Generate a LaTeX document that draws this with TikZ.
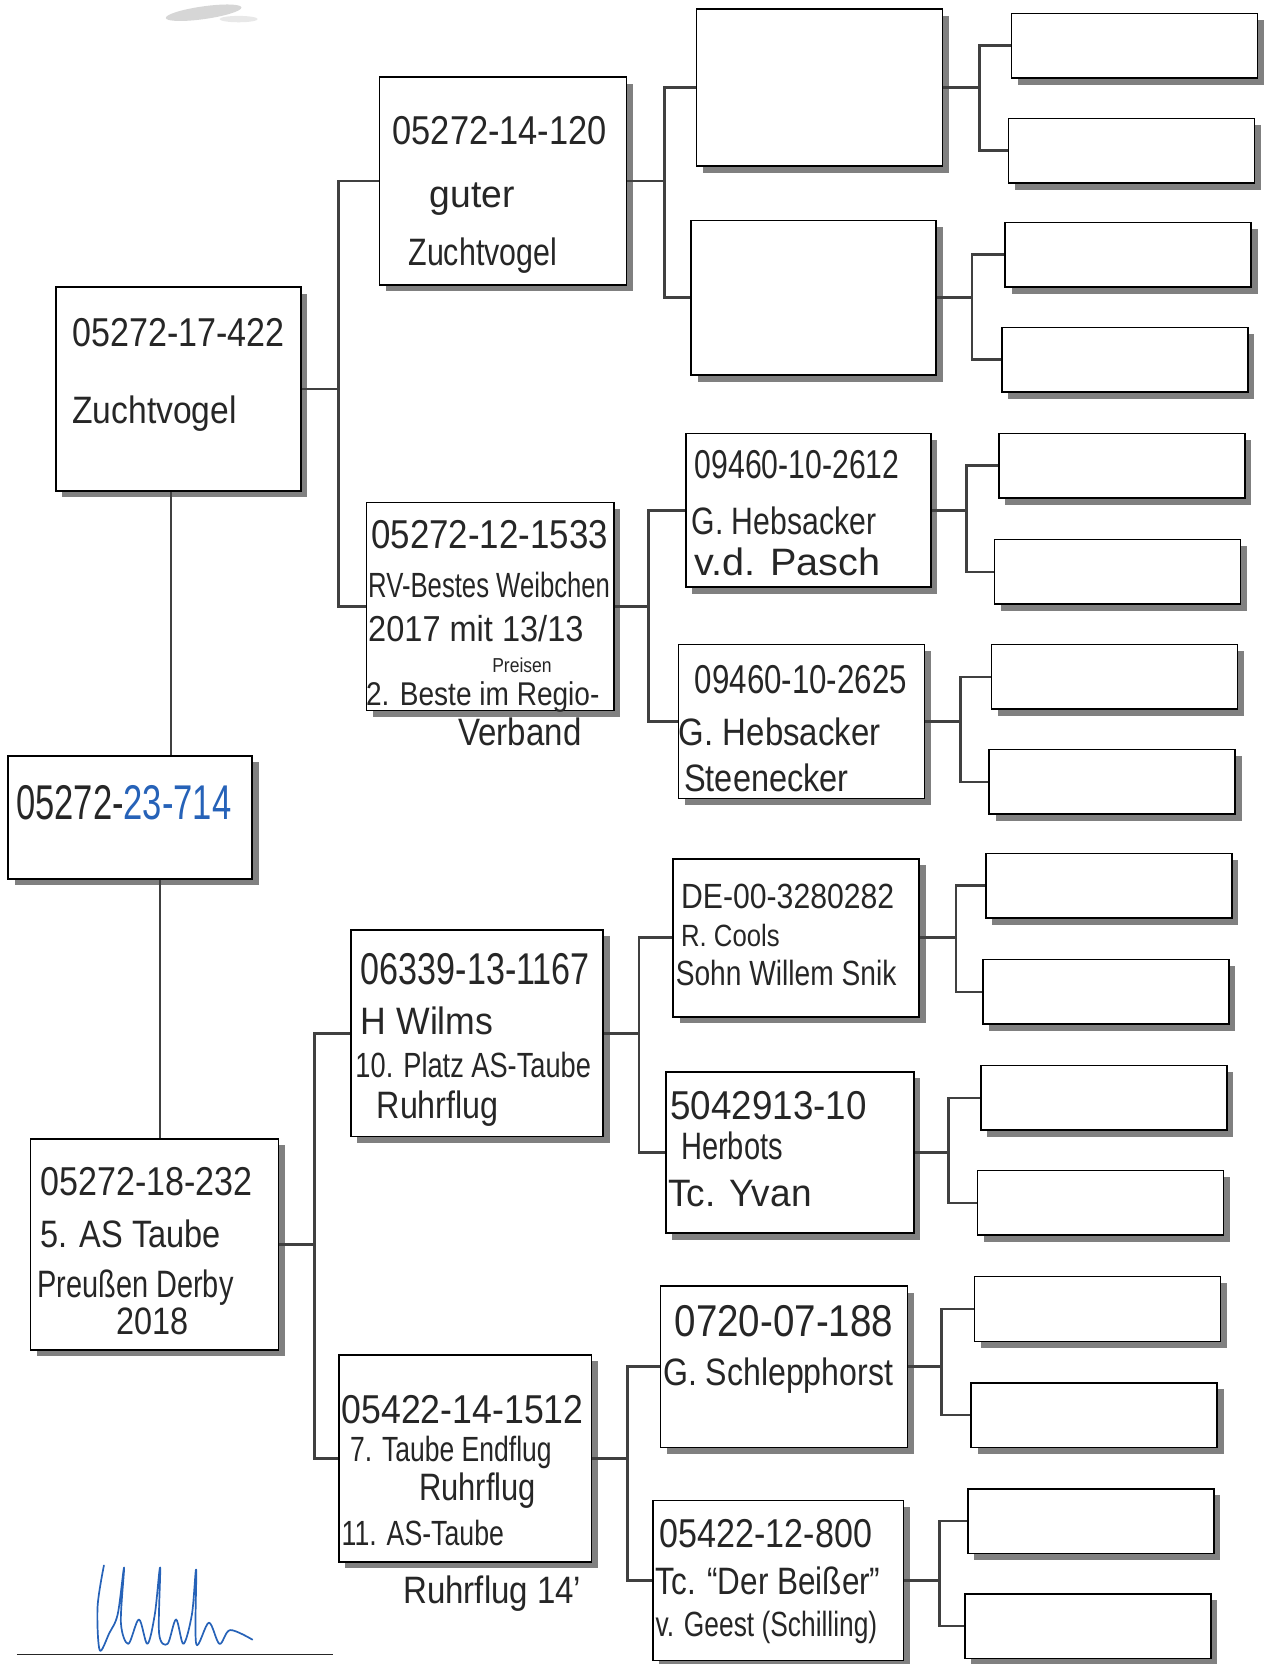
\documentclass[tikz,border=0pt]{standalone}
\usepackage{fontspec}
\setmainfont{Liberation Sans}
\usepackage{graphicx}
\usetikzlibrary{shadows}
\definecolor{penblue}{RGB}{38,98,184}
\newcommand{\hwr}[2]{\resizebox{#1pt}{\height}{#2}}
\tikzset{
  box/.style={draw=black, line width=1.5pt, fill=white, inner sep=0pt, anchor=north west,
    general shadow={fill=black!50, shadow xshift=6pt, shadow yshift=-6pt}},
  pbox/.style={box, minimum width=232pt, minimum height=61pt},
  conn/.style={draw=black!75, line width=2.6pt},
  vconn/.style={draw=black!75, line width=2.2pt},
  txt/.style={inner sep=0pt, anchor=base west, text=black!85, font=\fontsize{36}{40}\selectfont},
  idt/.style={txt, font=\fontsize{38}{42}\selectfont},
  sig/.style={draw=penblue, line width=1.6pt, line cap=round, line join=round}
}
\begin{document}
\begin{tikzpicture}[x=1pt, y=-1pt]
\fill[white] (0,0) rectangle (1191,1569);
\useasboundingbox (0,0) rectangle (1191,1569);

% scan smudge
\fill[gray!45, opacity=.7, rotate around={8:(192,12)}] (192,12) ellipse [x radius=36, y radius=6];
\fill[gray!30, opacity=.6] (225,18) ellipse [x radius=18, y radius=3];

% root
\node[box, minimum width=230pt, minimum height=116pt] (root) at (7,712) {};
% parents
\node[box, minimum width=231pt, minimum height=192pt] (sire) at (52,270) {};
\node[box, minimum width=234pt, minimum height=199pt] (dam) at (28,1073) {};
% grandparents
\node[box, minimum width=233pt, minimum height=196pt] (c2a) at (357,72) {};
\node[box, minimum width=233pt, minimum height=196pt] (c2b) at (345,473) {};
\node[box, minimum width=238pt, minimum height=195pt] (c2c) at (330,876) {};
\node[box, minimum width=238pt, minimum height=195pt] (c2d) at (319,1277) {};
% great-grandparents
\node[box, minimum width=232pt, minimum height=148pt] (c3a) at (656,8) {};
\node[box, minimum width=231pt, minimum height=146pt] (c3b) at (651,207) {};
\node[box, minimum width=231pt, minimum height=145pt] (c3c) at (646,408) {};
\node[box, minimum width=232pt, minimum height=145pt] (c3d) at (639,607) {};
\node[box, minimum width=232pt, minimum height=149pt] (c3e) at (634,809) {};
\node[box, minimum width=234pt, minimum height=152pt] (c3f) at (627,1010) {};
\node[box, minimum width=233pt, minimum height=152pt] (c3g) at (622,1212) {};
\node[box, minimum width=236pt, minimum height=151pt] (c3h) at (615,1414) {};
% great-great-grandparents
\foreach \i/\x/\y in {1/953/12, 2/950/111, 3/947/209, 4/944/308, 5/941/408, 6/937/508,
  7/934/607, 8/932/706, 9/929/804, 10/926/904, 11/924/1004, 12/921/1103,
  13/918/1203, 14/915/1303, 15/912/1403, 16/909/1502}
  \node[pbox] (r\i) at (\x,\y) {};

% connectors
\draw[vconn] ([xshift=-7pt]sire.south) -- ([xshift=-7pt]sire.south |- root.north);
\draw[vconn] ([xshift=5pt]dam.north) -- ([xshift=5pt]dam.north |- root.south);
\foreach \p/\a/\b/\d in {sire/c2a/c2b/35, dam/c2c/c2d/33,
  c2a/c3a/c3b/35, c2b/c3c/c3d/32, c2c/c3e/c3f/33, c2d/c3g/c3h/33,
  c3a/r1/r2/34, c3b/r3/r4/33, c3c/r5/r6/33, c3d/r7/r8/33,
  c3e/r9/r10/34, c3f/r11/r12/32, c3g/r13/r14/31, c3h/r15/r16/33}
{
  \draw[conn] (\p.east) -- ++(\d,0) coordinate (f-\p) |- (\a.west);
  \draw[conn] (f-\p) |- (\b.west);
}

% texts
\node[txt, font=\fontsize{46}{50}\selectfont] (t-root) at (15,773) {\hwr{203}{05272-\textcolor{penblue}{23-714}}};

\node[idt] (t-sire1) at (68,327) {\hwr{200}{05272-17-422}};
\node[txt] (t-sire2) at (68,399) {\hwr{155}{Zuchtvogel}};

\node[idt] (t-c2a1) at (370,136) {\hwr{202}{05272-14-120}};
\node[txt] (t-c2a2) at (405,196) {\hwr{80}{guter}};
\node[txt] (t-c2a3) at (385,250) {\hwr{140}{Zuchtvogel}};

\node[idt] (t-c2b1) at (350,517) {\hwr{223}{05272-12-1533}};
\node[txt, font=\fontsize{33}{36}\selectfont] (t-c2b2) at (347,563) {\hwr{228}{RV-Bestes Weibchen}};
\node[txt, font=\fontsize{34}{36}\selectfont] (t-c2b3) at (347,605) {\hwr{203}{2017 mit 13/13}};
\node[txt, font=\fontsize{19}{22}\selectfont] (t-c2b4) at (464,634) {\hwr{56}{Preisen}};
\node[txt, font=\fontsize{31}{34}\selectfont] (t-c2b5) at (345,665) {\hwr{220}{2. Beste im Regio-}};
\node[txt] (t-c2b6) at (432,703) {\hwr{116}{Verband}};

\node[idt, font=\fontsize{42}{46}\selectfont] (t-c2c1) at (340,928) {\hwr{216}{06339-13-1167}};
\node[txt] (t-c2c2) at (340,975) {\hwr{125}{H Wilms}};
\node[txt, font=\fontsize{33}{36}\selectfont] (t-c2c3) at (335,1016) {\hwr{222}{10. Platz AS-Taube}};
\node[txt] (t-c2c4) at (355,1055) {\hwr{115}{Ruhrflug}};

\node[idt] (t-c2d1) at (322,1342) {\hwr{228}{05422-14-1512}};
\node[txt, font=\fontsize{33}{36}\selectfont] (t-c2d2) at (330,1378) {\hwr{190}{7. Taube Endflug}};
\node[txt] (t-c2d3) at (395,1415) {\hwr{110}{Ruhrflug}};
\node[txt, font=\fontsize{33}{36}\selectfont] (t-c2d4) at (322,1457) {\hwr{153}{11. AS-Taube}};
\node[txt] (t-c2d5) at (380,1512) {\hwr{168}{Ruhrflug 14'}};

\node[idt] (t-dam1) at (38,1127) {\hwr{200}{05272-18-232}};
\node[txt] (t-dam2) at (38,1176) {\hwr{170}{5. AS Taube}};
\node[txt] (t-dam3) at (35,1223) {\hwr{185}{Preußen Derby}};
\node[txt] (t-dam4) at (110,1258) {\hwr{68}{2018}};

\node[idt] (t-c3c1) at (655,451) {\hwr{193}{09460-10-2612}};
\node[txt] (t-c3c2) at (652,504) {\hwr{174}{G. Hebsacker}};
\node[txt] (t-c3c3) at (655,543) {\hwr{175}{v.d. Pasch}};

\node[idt] (t-c3d1) at (655,654) {\hwr{200}{09460-10-2625}};
\node[txt] (t-c3d2) at (640,703) {\hwr{190}{G. Hebsacker}};
\node[txt] (t-c3d3) at (645,746) {\hwr{155}{Steenecker}};

\node[idt, font=\fontsize{33}{36}\selectfont] (t-c3e1) at (642,857) {\hwr{201}{DE-00-3280282}};
\node[txt, font=\fontsize{29}{32}\selectfont] (t-c3e2) at (642,892) {\hwr{93}{R. Cools}};
\node[txt, font=\fontsize{33}{36}\selectfont] (t-c3e3) at (637,929) {\hwr{208}{Sohn Willem Snik}};

\node[idt] (t-c3f1) at (632,1056) {\hwr{185}{5042913-10}};
\node[txt] (t-c3f2) at (642,1093) {\hwr{96}{Herbots}};
\node[txt] (t-c3f3) at (630,1138) {\hwr{135}{Tc. Yvan}};

\node[idt, font=\fontsize{42}{46}\selectfont] (t-c3g1) at (636,1260) {\hwr{206}{0720-07-188}};
\node[txt] (t-c3g2) at (625,1306) {\hwr{217}{G. Schlepphorst}};

\node[idt] (t-c3h1) at (622,1459) {\hwr{200}{05422-12-800}};
\node[txt] (t-c3h2) at (618,1503) {\hwr{212}{Tc. “Der Beißer”}};
\node[txt, font=\fontsize{33}{36}\selectfont] (t-c3h3) at (618,1543) {\hwr{209}{v. Geest (Schilling)}};

% signature
\draw[black!85, line width=1.5pt] (16,1560) -- (314,1560);
\draw[sig] plot[smooth, tension=0.55] coordinates {(98,1476) (92,1515) (94,1556) (103,1540) (111,1522) (117,1478) (114,1530) (121,1550) (131,1527) (139,1550) (146,1522) (151,1478) (150,1540) (158,1550) (166,1527) (173,1550) (181,1522) (185,1480) (185,1550) (197,1530) (207,1550) (217,1537) (238,1546)};
\end{tikzpicture}
\end{document}
